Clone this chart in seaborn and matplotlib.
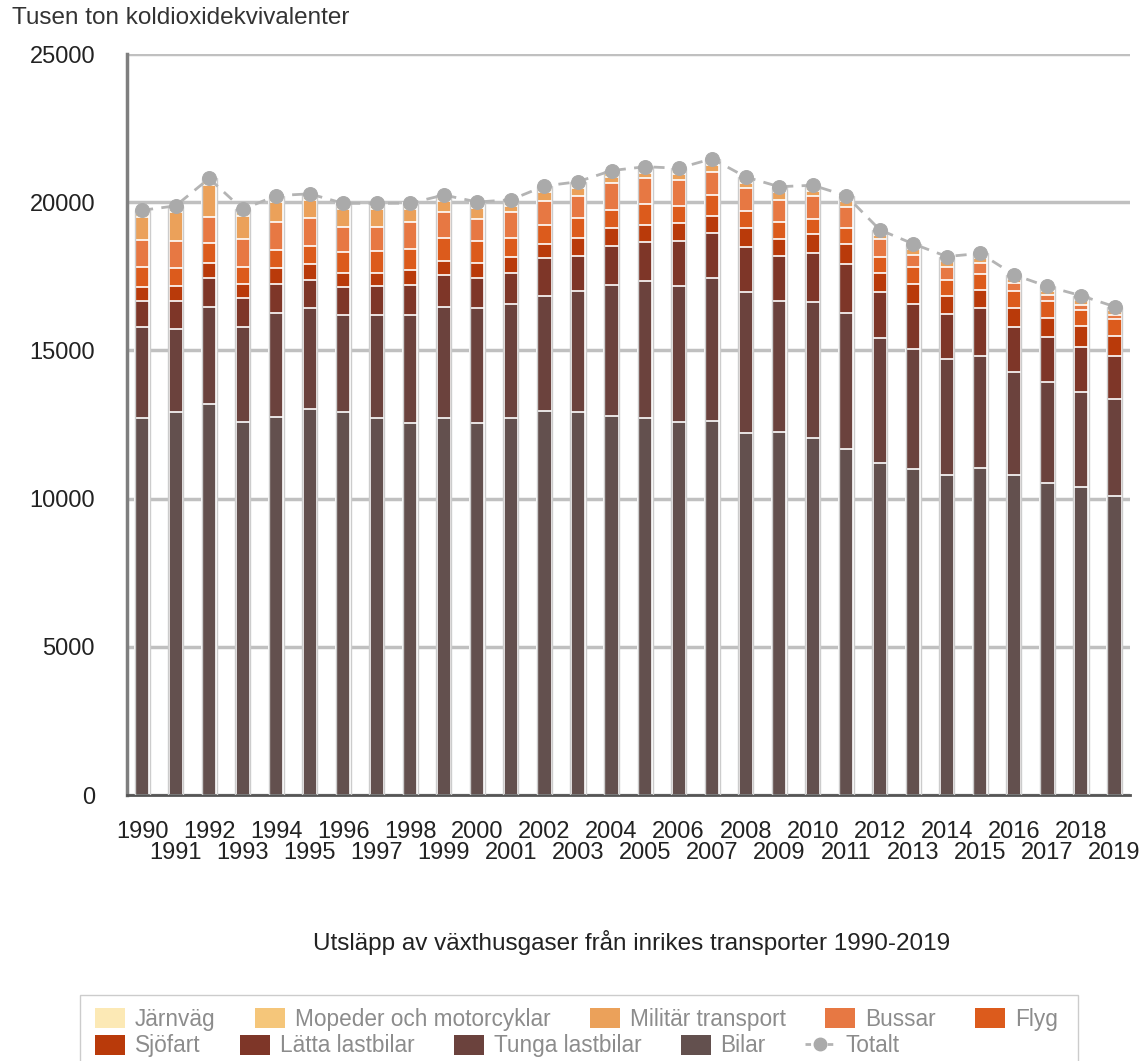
import numpy as np
import matplotlib.pyplot as plt
import seaborn as sns
from matplotlib.patches import Patch, Rectangle
from matplotlib.lines import Line2D

years = list(range(1990, 2020))

# tusen ton CO2-ekv
bilar = [12710, 12910, 13190, 12570, 12770, 13020, 12910, 12710, 12540, 12710,
         12560, 12710, 12970, 12910, 12800, 12710, 12570, 12620, 12200, 12240,
         12030, 11670, 11190, 10990, 10800, 11040, 10800, 10520, 10400, 10090]
tunga = [3090, 2800, 3280, 3230, 3510, 3400, 3280, 3490, 3660, 3770,
         3860, 3860, 3880, 4090, 4410, 4630, 4610, 4840, 4760, 4430,
         4610, 4580, 4220, 4050, 3900, 3780, 3460, 3410, 3210, 3270]
latta = [870, 960, 960, 960, 970, 960, 960, 960, 1010, 1050,
         1010, 1060, 1260, 1180, 1330, 1330, 1510, 1520, 1540, 1530,
         1650, 1660, 1570, 1530, 1530, 1600, 1540, 1540, 1520, 1460]
sjofart = [480, 520, 510, 470, 530, 530, 470, 470, 510, 500,
           530, 520, 470, 600, 590, 560, 600, 560, 620, 560,
           650, 680, 640, 660, 620, 620, 620, 620, 710, 680]
flyg = [650, 590, 670, 600, 620, 630, 690, 730, 700, 770,
        740, 640, 650, 680, 620, 700, 600, 690, 590, 560,
        510, 530, 520, 570, 530, 530, 590, 590, 530, 550]
bussar = [920, 920, 880, 920, 930, 920, 870, 820, 910, 880,
          750, 880, 810, 760, 900, 880, 870, 790, 770, 750,
          760, 730, 610, 420, 450, 370, 250, 200, 180, 150]
militar = [790, 960, 1100, 800, 690, 620, 580, 580, 440, 360,
           360, 210, 310, 270, 220, 190, 190, 250, 180, 270,
           180, 190, 150, 210, 180, 180, 150, 140, 160, 150]
mopeder = [120, 120, 120, 115, 115, 115, 120, 120, 120, 125,
           125, 130, 130, 135, 135, 135, 140, 140, 135, 130,
           130, 125, 120, 115, 110, 105, 100, 95, 95, 90]
jarnvag = [100, 100, 95, 95, 90, 90, 85, 85, 80, 80,
           75, 75, 70, 70, 65, 65, 60, 60, 60, 55,
           55, 55, 50, 50, 50, 50, 45, 45, 45, 40]

# bottom to top
series = [bilar, tunga, latta, sjofart, flyg, bussar, militar, mopeder, jarnvag]
names = ["Bilar", "Tunga lastbilar", "Lätta lastbilar", "Sjöfart", "Flyg",
         "Bussar", "Militär transport", "Mopeder och motorcyklar", "Järnväg"]
colors = ["#63504e", "#6b423d", "#7e3628", "#b93a0a", "#dc5b1c",
          "#e77843", "#eba15a", "#f5c67a", "#fce9b5"]

sns.set_theme(style="white")
plt.rcParams['font.family'] = ['Liberation Sans', 'DejaVu Sans']

fig = plt.figure(figsize=(11.48, 10.61), dpi=100)
ax = fig.add_axes([0.1106, 0.2507, 0.8734, 0.6983])

cum = np.cumsum(np.array(series), axis=0)
total = cum[-1]

# stacked bars: draw cumulative heights from the top layer down
for i in reversed(range(len(series))):
    sns.barplot(x=years, y=cum[i], color=colors[i], saturation=1, width=0.42,
                native_scale=True, errorbar=None, edgecolor="white",
                linewidth=1.2, zorder=2, ax=ax)
ax.bar(years, total, width=0.45, fill=False, edgecolor="#cccccc", linewidth=1, zorder=3)

sns.lineplot(x=years, y=total, color="#b4b4b4", linewidth=2, dashes=False, ax=ax, zorder=4,
             linestyle=(0, (4, 3)), marker="o", markersize=10,
             markerfacecolor="#aaaaaa", markeredgecolor="#aaaaaa")

ax.set_xlim(1989.55, 2019.45)
ax.set_ylim(0, 25000)
ax.set_yticks(range(0, 25001, 5000))
even = [y for y in years if y % 2 == 0]
odd = [y for y in years if y % 2 == 1]
ax.set_xticks(even)
ax.set_xticklabels([str(y) for y in even])
ax.set_xticks(odd, minor=True)
ax.set_xticklabels([str(y) for y in odd], minor=True)
ax.set_xlabel("")
ax.set_ylabel("")
ax.set_axisbelow(True)
ax.yaxis.grid(True, color="#c0c0c0", linewidth=2.5)
ax.xaxis.grid(False, which="both")
for s in ["top", "right"]:
    ax.spines[s].set_visible(False)
ax.spines["left"].set_color("#7f7f7f")
ax.spines["left"].set_linewidth(2.5)
ax.spines["bottom"].set_color("#555555")
ax.spines["bottom"].set_linewidth(2)
ax.tick_params(axis="x", which="major", length=0, pad=19, labelsize=17, colors="#222222")
ax.tick_params(axis="x", which="minor", length=0, pad=34, labelsize=17, colors="#222222")
ax.tick_params(axis="y", length=0, pad=23, labelsize=17, colors="#222222")

fig.text(0.0105, 0.983, "Tusen ton koldioxidekvivalenter", fontsize=17.5,
         ha="left", va="center", color="#333333")
fig.text(0.55, 0.112, "Utsläpp av växthusgaser från inrikes transporter 1990-2019",
         fontsize=17.5, ha="center", va="center", color="#222222")

# legend in two flowing rows
row1 = ["Järnväg", "Mopeder och motorcyklar", "Militär transport", "Bussar", "Flyg"]
row2 = ["Sjöfart", "Lätta lastbilar", "Tunga lastbilar", "Bilar"]
cmap = dict(zip(names, colors))
h1 = [Patch(facecolor=cmap[n], edgecolor="none") for n in row1]
h2 = [Patch(facecolor=cmap[n], edgecolor="none") for n in row2]
h2.append(Line2D([], [], color="#b4b4b4", linestyle=(0, (2, 2)), linewidth=2,
                 marker="o", markersize=9, markerfacecolor="#aaaaaa",
                 markeredgecolor="#aaaaaa"))
kw = dict(loc="upper left", ncol=5, frameon=False, fontsize=16.3, labelcolor="#8c8c8c",
          handlelength=1.33, handleheight=0.97, handletextpad=0.44, columnspacing=1.73,
          borderaxespad=0, borderpad=0)
fig.legend(h1, row1, bbox_to_anchor=(0.0828, 0.0504), **kw)
fig.legend(h2, row2 + ["Totalt"], bbox_to_anchor=(0.0828, 0.0250), **kw)
fig.patches.append(Rectangle((80 / 1148, -0.01), 998 / 1148, 0.0722, fill=False,
                             edgecolor="#cccccc", linewidth=1,
                             transform=fig.transFigure, figure=fig))

fig.savefig("out.png", dpi=100)
